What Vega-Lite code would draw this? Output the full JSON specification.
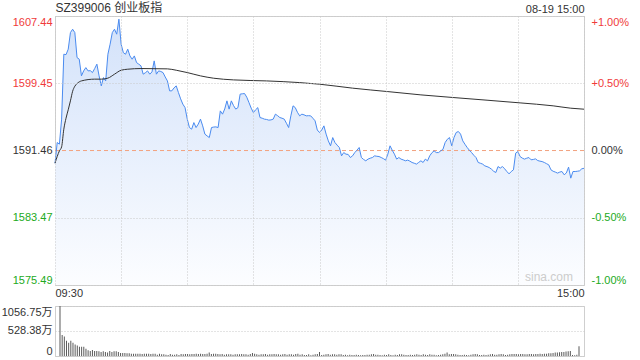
{
"$schema": "https://vega.github.io/schema/vega-lite/v6.json",
"padding": {"left": 0, "top": 0, "right": 5, "bottom": 5},
"background": "white",
"config": {
  "font": "Liberation Sans, Noto Sans CJK SC, sans-serif",
  "view": {"stroke": "#cfcfcf"},
  "axis": {"labelFontSize": 11, "labelFont": "Liberation Sans, Noto Sans CJK SC, sans-serif", "ticks": false, "domain": false, "title": null}
},
"datasets": {
"avg": [
{"m":0,"a":1589.96},{"m":2,"a":1591.42},{"m":3,"a":1591.9},{"m":4,"a":1594.0},{"m":5,"a":1595.3},{"m":6,"a":1596.3},{"m":7,"a":1597.36},{"m":8,"a":1598.5},{"m":9,"a":1599.1},{"m":10,"a":1599.41},{"m":12,"a":1599.73},{"m":18,"a":1599.94},{"m":21,"a":1599.94},{"m":24,"a":1600.06},{"m":27,"a":1600.53},{"m":30,"a":1601.0},{"m":33,"a":1601.12},{"m":39,"a":1601.2},{"m":51,"a":1601.16},{"m":55,"a":1601.0},{"m":60,"a":1600.72},{"m":66,"a":1600.33},{"m":72,"a":1600.05},{"m":81,"a":1599.85},{"m":96,"a":1599.73},{"m":111,"a":1599.53},{"m":120,"a":1599.34},{"m":135,"a":1598.87},{"m":151,"a":1598.46},{"m":166,"a":1598.07},{"m":181,"a":1597.75},{"m":196,"a":1597.44},{"m":211,"a":1597.12},{"m":226,"a":1596.77},{"m":234,"a":1596.49},{"m":240,"a":1596.37}
],
"tick": [
{"m":0,"p":1589.96,"v":1056.75},{"m":1,"p":1592.41,"v":446},{"m":2,"p":1592.22,"v":410},{"m":3,"p":1595.19,"v":324},{"m":4,"p":1602.9,"v":280},{"m":5,"p":1602.85,"v":324},{"m":6,"p":1603.5,"v":280},{"m":7,"p":1605.47,"v":244},{"m":8,"p":1605.87,"v":223},{"m":9,"p":1605.47,"v":194},
{"m":10,"p":1602.5,"v":194},{"m":11,"p":1602.31,"v":194},{"m":12,"p":1600.33,"v":151},{"m":13,"p":1600.92,"v":122},{"m":14,"p":1601.31,"v":108},{"m":15,"p":1600.92,"v":129},{"m":16,"p":1600.95,"v":108},{"m":17,"p":1600.72,"v":108},{"m":18,"p":1601.2,"v":100},{"m":19,"p":1601.72,"v":86},
{"m":20,"p":1600.33,"v":100},{"m":21,"p":1599.14,"v":86},{"m":22,"p":1600.13,"v":72},{"m":23,"p":1599.73,"v":108},{"m":24,"p":1602.9,"v":86},{"m":25,"p":1604.09,"v":100},{"m":26,"p":1605.47,"v":100},{"m":27,"p":1605.87,"v":86},{"m":28,"p":1605.28,"v":65},{"m":29,"p":1607.06,"v":65},
{"m":30,"p":1604.09,"v":65},{"m":31,"p":1603.09,"v":58},{"m":32,"p":1602.9,"v":58},{"m":33,"p":1603.5,"v":50},{"m":34,"p":1602.7,"v":50},{"m":35,"p":1602.31,"v":50},{"m":36,"p":1602.7,"v":50},{"m":37,"p":1601.91,"v":50},{"m":38,"p":1601.72,"v":43},{"m":39,"p":1601.52,"v":50},
{"m":40,"p":1600.53,"v":50},{"m":41,"p":1600.7,"v":50},{"m":42,"p":1600.92,"v":43},{"m":43,"p":1600.53,"v":50},{"m":44,"p":1600.8,"v":50},{"m":45,"p":1602.11,"v":29},{"m":46,"p":1600.53,"v":50},{"m":47,"p":1600.92,"v":36},{"m":48,"p":1600.85,"v":36},{"m":49,"p":1600.72,"v":29},
{"m":50,"p":1600.2,"v":22},{"m":51,"p":1599.73,"v":43},{"m":52,"p":1598.55,"v":29},{"m":53,"p":1598.55,"v":29},{"m":54,"p":1598.9,"v":36},{"m":55,"p":1599.14,"v":22},{"m":56,"p":1598.35,"v":43},{"m":57,"p":1597.6,"v":36},{"m":58,"p":1596.97,"v":43},{"m":59,"p":1596.56,"v":43},
{"m":60,"p":1595.19,"v":36},{"m":61,"p":1594.19,"v":43},{"m":62,"p":1594.0,"v":43},{"m":63,"p":1594.78,"v":50},{"m":64,"p":1594.19,"v":43},{"m":65,"p":1594.6,"v":50},{"m":66,"p":1595.19,"v":43},{"m":67,"p":1594.39,"v":43},{"m":68,"p":1593.41,"v":50},{"m":69,"p":1593.2,"v":72},
{"m":70,"p":1593.0,"v":43},{"m":71,"p":1594.19,"v":50},{"m":72,"p":1594.25,"v":50},{"m":73,"p":1594.27,"v":43},{"m":74,"p":1594.19,"v":36},{"m":75,"p":1596.17,"v":43},{"m":76,"p":1595.78,"v":29},{"m":77,"p":1596.4,"v":36},{"m":78,"p":1597.36,"v":36},{"m":79,"p":1596.38,"v":36},
{"m":80,"p":1597.36,"v":29},{"m":81,"p":1596.8,"v":36},{"m":82,"p":1596.38,"v":36},{"m":83,"p":1596.56,"v":36},{"m":84,"p":1598.16,"v":43},{"m":85,"p":1598.2,"v":36},{"m":86,"p":1598.23,"v":36},{"m":87,"p":1597.8,"v":29},{"m":88,"p":1597.16,"v":43},{"m":89,"p":1596.5,"v":65},
{"m":90,"p":1595.97,"v":50},{"m":91,"p":1596.3,"v":36},{"m":92,"p":1596.56,"v":29},{"m":93,"p":1595.38,"v":36},{"m":94,"p":1595.3,"v":36},{"m":95,"p":1595.19,"v":43},{"m":96,"p":1595.15,"v":29},{"m":97,"p":1595.07,"v":36},{"m":98,"p":1595.1,"v":36},{"m":99,"p":1595.19,"v":43},
{"m":100,"p":1595.78,"v":36},{"m":101,"p":1595.6,"v":36},{"m":102,"p":1595.38,"v":29},{"m":103,"p":1595.3,"v":36},{"m":104,"p":1595.19,"v":43},{"m":105,"p":1594.7,"v":29},{"m":106,"p":1594.19,"v":36},{"m":107,"p":1595.58,"v":36},{"m":108,"p":1596.77,"v":29},{"m":109,"p":1596.56,"v":43},
{"m":110,"p":1596.0,"v":50},{"m":111,"p":1595.58,"v":29},{"m":112,"p":1595.78,"v":36},{"m":113,"p":1595.7,"v":22},{"m":114,"p":1595.58,"v":22},{"m":115,"p":1595.6,"v":36},{"m":116,"p":1595.58,"v":14},{"m":117,"p":1595.3,"v":29},{"m":118,"p":1594.99,"v":36},{"m":119,"p":1593.9,"v":43},
{"m":120,"p":1593.6,"v":86},{"m":121,"p":1593.9,"v":22},{"m":122,"p":1594.39,"v":29},{"m":123,"p":1593.41,"v":36},{"m":124,"p":1592.61,"v":43},{"m":125,"p":1592.02,"v":29},{"m":126,"p":1593.0,"v":36},{"m":127,"p":1592.41,"v":36},{"m":128,"p":1592.1,"v":29},{"m":129,"p":1591.82,"v":36},
{"m":130,"p":1590.83,"v":36},{"m":131,"p":1591.22,"v":22},{"m":132,"p":1591.03,"v":29},{"m":133,"p":1591.0,"v":14},{"m":134,"p":1590.63,"v":29},{"m":135,"p":1590.83,"v":22},{"m":136,"p":1591.22,"v":22},{"m":137,"p":1591.5,"v":29},{"m":138,"p":1591.82,"v":22},{"m":139,"p":1590.63,"v":14},
{"m":140,"p":1590.4,"v":22},{"m":141,"p":1590.24,"v":22},{"m":142,"p":1590.44,"v":29},{"m":143,"p":1590.55,"v":29},{"m":144,"p":1590.63,"v":36},{"m":145,"p":1590.83,"v":43},{"m":146,"p":1590.78,"v":29},{"m":147,"p":1590.75,"v":29},{"m":148,"p":1590.63,"v":22},{"m":149,"p":1590.5,"v":14},
{"m":150,"p":1590.32,"v":29},{"m":151,"p":1591.03,"v":22},{"m":152,"p":1592.02,"v":36},{"m":153,"p":1591.5,"v":22},{"m":154,"p":1591.03,"v":14},{"m":155,"p":1590.44,"v":29},{"m":156,"p":1590.63,"v":22},{"m":157,"p":1590.44,"v":36},{"m":158,"p":1590.35,"v":36},{"m":159,"p":1590.24,"v":29},
{"m":160,"p":1590.32,"v":22},{"m":161,"p":1590.2,"v":22},{"m":162,"p":1590.04,"v":29},{"m":163,"p":1589.95,"v":22},{"m":164,"p":1589.85,"v":29},{"m":165,"p":1590.05,"v":36},{"m":166,"p":1590.24,"v":29},{"m":167,"p":1590.04,"v":22},{"m":168,"p":1590.44,"v":36},{"m":169,"p":1590.24,"v":29},
{"m":170,"p":1590.83,"v":22},{"m":171,"p":1591.2,"v":36},{"m":172,"p":1591.42,"v":29},{"m":173,"p":1591.22,"v":29},{"m":174,"p":1591.22,"v":14},{"m":175,"p":1591.42,"v":22},{"m":176,"p":1591.6,"v":29},{"m":177,"p":1592.41,"v":36},{"m":178,"p":1592.8,"v":50},{"m":179,"p":1593.0,"v":72},
{"m":180,"p":1592.02,"v":36},{"m":181,"p":1593.0,"v":43},{"m":182,"p":1593.6,"v":43},{"m":183,"p":1593.72,"v":36},{"m":184,"p":1593.41,"v":29},{"m":185,"p":1592.61,"v":22},{"m":186,"p":1592.2,"v":22},{"m":187,"p":1591.82,"v":29},{"m":188,"p":1591.5,"v":22},{"m":189,"p":1591.22,"v":14},
{"m":190,"p":1590.9,"v":29},{"m":191,"p":1590.63,"v":36},{"m":192,"p":1590.04,"v":43},{"m":193,"p":1589.95,"v":36},{"m":194,"p":1589.85,"v":22},{"m":195,"p":1589.64,"v":22},{"m":196,"p":1589.55,"v":29},{"m":197,"p":1589.44,"v":22},{"m":198,"p":1589.25,"v":29},{"m":199,"p":1589.0,"v":36},
{"m":200,"p":1588.85,"v":43},{"m":201,"p":1589.56,"v":29},{"m":202,"p":1589.37,"v":29},{"m":203,"p":1589.56,"v":36},{"m":204,"p":1589.29,"v":43},{"m":205,"p":1588.97,"v":36},{"m":206,"p":1588.69,"v":22},{"m":207,"p":1588.97,"v":29},{"m":208,"p":1589.17,"v":36},{"m":209,"p":1591.15,"v":43},
{"m":210,"p":1591.34,"v":43},{"m":211,"p":1590.75,"v":43},{"m":212,"p":1590.56,"v":36},{"m":213,"p":1590.44,"v":43},{"m":214,"p":1590.55,"v":43},{"m":215,"p":1590.63,"v":36},{"m":216,"p":1590.36,"v":36},{"m":217,"p":1590.4,"v":43},{"m":218,"p":1590.47,"v":43},{"m":219,"p":1590.27,"v":36},
{"m":220,"p":1590.2,"v":43},{"m":221,"p":1590.15,"v":43},{"m":222,"p":1590.04,"v":50},{"m":223,"p":1589.9,"v":43},{"m":224,"p":1589.76,"v":50},{"m":225,"p":1589.17,"v":50},{"m":226,"p":1589.0,"v":58},{"m":227,"p":1588.9,"v":58},{"m":228,"p":1588.78,"v":65},{"m":229,"p":1588.9,"v":72},
{"m":230,"p":1588.97,"v":72},{"m":231,"p":1588.58,"v":79},{"m":232,"p":1588.8,"v":86},{"m":233,"p":1589.49,"v":86},{"m":234,"p":1588.18,"v":94},{"m":235,"p":1588.97,"v":100},{"m":236,"p":1588.97,"v":108},{"m":237,"p":1589.0,"v":22},{"m":238,"p":1589.05,"v":14},{"m":239,"p":1589.29,"v":29},
{"m":240,"p":1589.35,"v":208}
]
},
"spacing": 6,
"vconcat": [
{
  "width": 529,
  "height": 269,
  "layer": [
    {
      "data": {"name": "tick"},
      "mark": {"type": "area", "color": {"gradient": "linear", "x1": 0, "y1": 0, "x2": 0, "y2": 1, "stops": [{"offset": 0, "color": "#d3e2fa"}, {"offset": 1, "color": "#fcfdff"}]}},
      "encoding": {
        "x": {"field": "m", "type": "quantitative", "scale": {"domain": [0, 240], "nice": false, "zero": false},
          "axis": {"orient": "bottom", "values": [0, 30, 60, 90, 120, 150, 180, 210, 240], "labelExpr": "datum.value == 0 ? '09:30' : (datum.value == 240 ? '15:00' : '')", "labelFlush": true, "labelOverlap": false, "labelPadding": 2, "labelColor": "#333333", "grid": true, "gridColor": "#c8c8c8", "gridDash": [1, 2], "zindex": 1}},
        "y": {"field": "p", "type": "quantitative", "scale": {"domain": [1575.49, 1607.44], "nice": false, "zero": false},
          "axis": {"orient": "left", "values": [1575.49, 1583.47, 1591.46, 1599.45, 1607.44], "format": ".2f", "labelFlush": true, "labelOverlap": false, "labelPadding": 3, "grid": true, "zindex": 1,
            "gridColor": {"condition": {"test": "abs(datum.value - 1591.46) < 0.01", "value": "transparent"}, "value": "#c8c8c8"},
            "gridDash": [1, 2],
            "labelColor": {"condition": [{"test": "datum.value > 1591.5", "value": "#f03a3a"}, {"test": "datum.value < 1591.4", "value": "#22aa22"}], "value": "#333333"}}},
        "y2": {"datum": 1575.49}
      }
    },
    {
      "data": {"values": [{"p": 1591.46}]},
      "mark": {"type": "rule", "color": "#f2a27e", "strokeWidth": 1, "strokeDash": [4, 3]},
      "encoding": {
        "y": {"field": "p", "type": "quantitative", "axis": null}
      }
    },
    {
      "data": {"name": "tick"},
      "mark": {"type": "line", "color": "#4a8bf0", "strokeWidth": 1},
      "encoding": {
        "x": {"field": "m", "type": "quantitative",
          "axis": {"orient": "top", "values": [0, 240], "labelExpr": "datum.value == 0 ? 'SZ399006 创业板指' : '08-19 15:00'", "labelFlush": true, "labelOverlap": false, "labelPadding": 2, "labelColor": "#333333", "grid": false,
            "labelFontSize": {"condition": {"test": "datum.value == 0", "value": 12}, "value": 11}}},
        "y": {"field": "p", "type": "quantitative",
          "axis": {"orient": "right", "values": [1575.49, 1583.47, 1591.46, 1599.45, 1607.44], "labelExpr": "datum.value > 1605 ? '+1.00%' : (datum.value > 1595 ? '+0.50%' : (datum.value > 1590 ? '0.00%' : (datum.value > 1580 ? '-0.50%' : '-1.00%')))", "labelFlush": true, "labelOverlap": false, "labelPadding": 7, "grid": false,
            "labelColor": {"condition": [{"test": "datum.value > 1591.5", "value": "#f03a3a"}, {"test": "datum.value < 1591.4", "value": "#22aa22"}], "value": "#333333"}}}
      }
    },
    {
      "data": {"name": "avg"},
      "mark": {"type": "line", "color": "#333333", "strokeWidth": 1, "interpolate": "monotone"},
      "encoding": {
        "x": {"field": "m", "type": "quantitative", "axis": null},
        "y": {"field": "a", "type": "quantitative", "axis": null}
      }
    },
    {
      "data": {"values": [{"m": 240, "p": 1575.49, "t": "sina.com"}]},
      "mark": {"type": "text", "align": "right", "baseline": "bottom", "dx": -11, "dy": -1, "fontSize": 12, "color": "#cccccc"},
      "encoding": {
        "x": {"field": "m", "type": "quantitative", "axis": null},
        "y": {"field": "p", "type": "quantitative", "axis": null},
        "text": {"field": "t"}
      }
    }
  ],
  "resolve": {"axis": {"x": "independent", "y": "independent"}}
},
{
  "width": 529,
  "height": 50,
  "data": {"name": "tick"},
  "mark": {"type": "bar", "size": 1, "color": "#5a5a5a"},
  "encoding": {
    "x": {"field": "m", "type": "quantitative", "scale": {"domain": [0, 240], "nice": false, "zero": false}, "axis": null},
    "y": {"field": "v", "type": "quantitative", "scale": {"domain": [0, 1056.75], "nice": false},
      "axis": {"values": [0, 528.38, 1056.75], "labelExpr": "datum.value == 0 ? '0' : format(datum.value, '.2f') + '万'", "labelFlush": true, "labelOverlap": false, "labelPadding": 3, "labelColor": "#333333", "grid": true, "gridColor": "#c8c8c8", "gridDash": [1, 2]}}
  }
}
]
}
